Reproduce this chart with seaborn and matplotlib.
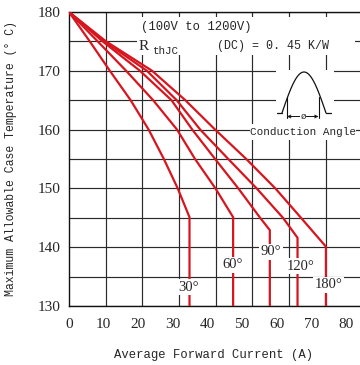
import numpy as np
import pandas as pd
import matplotlib
matplotlib.use("Agg")
import matplotlib.pyplot as plt
from matplotlib.patches import Rectangle
import seaborn as sns

# ---------------- data ----------------
angles = ["30°", "60°", "90°", "120°", "180°"]

x_30 = [0, 6.0, 11.8, 17.8, 23.0, 27.4, 31.4, 34.8, 34.8]
y_30 = [180, 175, 170, 165, 160, 155, 150, 145.1, 130]

x_60 = [0, 8.3, 16.5, 24.3, 31.2, 36.4, 42.3, 47.4, 47.4]
y_60 = [180, 175, 170, 165, 160, 155, 150, 145.1, 130]

x_90 = [0, 9.7, 20.5, 29.6, 35.6, 42.2, 48.9, 55.2, 58.0, 58.0]
y_90 = [180, 175, 170, 165, 160, 155, 150, 145, 142.9, 130]

x_120 = [0, 10.2, 22.5, 31.1, 37.9, 46.0, 54.2, 61.8, 66.0, 66.0]
y_120 = [180, 175, 170, 165, 160, 155, 150, 145, 141.6, 130]

x_180 = [0, 10.7, 24.0, 33.6, 42.2, 51.2, 59.6, 67.0, 74.2, 74.2]
y_180 = [180, 175, 170, 165, 160, 155, 150, 145, 140.1, 130]

x_ticks = [0, 10, 20, 30, 40, 50, 60, 70, 80]
y_ticks = [130, 140, 150, 160, 170, 180]

# label positions for the angle tags (data units)
lab_x = [34.4, 47.3, 58.4, 66.9, 74.9]
lab_y = [133.2, 137.0, 139.2, 136.8, 133.6]

series_x = [x_30, x_60, x_90, x_120, x_180]
series_y = [y_30, y_60, y_90, y_120, y_180]

df = pd.concat(
    [pd.DataFrame({"current": xs, "temp": ys, "angle": a})
     for a, xs, ys in zip(angles, series_x, series_y)],
    ignore_index=True,
)

# ---------------- style ----------------
sns.set_style("white")
plt.rcParams["font.family"] = ["Liberation Mono", "DejaVu Sans"]

RED = "#d7151f"
GRID = "#2a2a2a"

fig = plt.figure(figsize=(3.6, 3.65), dpi=100)
W, H = 360.0, 365.0
L, R_, T, B = 69.0, 360.0, 12.0, 306.0
ax = fig.add_axes([L / W, 1 - B / H, (R_ - L) / W, (B - T) / H])

sns.lineplot(data=df, x="current", y="temp", hue="angle",
             palette=[RED] * len(angles), estimator=None, sort=False,
             legend=False, lw=1.6, ax=ax, zorder=3)

xmax = (R_ - L) / 3.4625
ax.set_xlim(0, xmax)
ax.set_ylim(130, 180)

# ticks / grid
ax.set_xticks(x_ticks)
ax.set_xticklabels([str(v) for v in x_ticks], family="Liberation Serif", fontsize=11)
grid_step = 36.67 / 3.4625
ax.set_xticks([k * grid_step for k in range(1, 8)], minor=True)
ax.set_yticks(y_ticks)
ax.set_yticklabels([str(v) for v in y_ticks], family="Liberation Serif", fontsize=11)
ax.set_yticks([135, 145, 155, 165, 175], minor=True)
ax.tick_params(axis="both", which="both", length=0)
ax.tick_params(axis="y", pad=6)
ax.tick_params(axis="x", pad=9)
ax.grid(False)
ax.grid(True, axis="x", which="minor", color=GRID, lw=0.85)
ax.grid(True, axis="y", which="both", color=GRID, lw=0.85)
ax.set_axisbelow(True)

for s in ["left", "bottom", "top"]:
    ax.spines[s].set_visible(True)
    ax.spines[s].set_color("#111111")
    ax.spines[s].set_linewidth(1.0)
ax.spines["right"].set_visible(False)

ax.set_xlabel("Average Forward Current (A)", fontsize=8.8)
ax.set_ylabel("Maximum Allowable Case Temperature (° C)", fontsize=8.3)
ax.xaxis.set_label_coords(0.498, -0.145)
ax.yaxis.set_label_coords(-0.178, 0.5)

# white boxes behind annotation texts (cover the grid like the reference)
ax.add_patch(Rectangle(((137 - L) / (R_ - L), (B - 55) / (B - T)),
                       (355 - 137) / (R_ - L), (55 - 17) / (B - T),
                       transform=ax.transAxes, facecolor="white",
                       edgecolor="none", zorder=2.5))
ax.add_patch(Rectangle(((250 - L) / (R_ - L), (B - 140) / (B - T)),
                       (356 - 250) / (R_ - L), (140 - 124) / (B - T),
                       transform=ax.transAxes, facecolor="white",
                       edgecolor="none", zorder=2.5))

def px2data(px, py):
    return (px - L) / 3.4625, 180 - (py - T) / 5.88

tx, ty = px2data(141, 27.5)
ax.text(tx, ty, "(100V to 1200V)", fontsize=8.8, va="center", ha="left", zorder=4)
tx, ty = px2data(138.5, 46.5)
ax.text(tx, ty, "R", fontsize=11, family="Liberation Serif", va="center", ha="left", zorder=4)
tx, ty = px2data(152, 51)
ax.text(tx, ty, "thJC", fontsize=7.8, va="center", ha="left", zorder=4)
tx, ty = px2data(217, 46)
ax.text(tx, ty, "(DC) = 0. 45 K/W", fontsize=8.4, va="center", ha="left", zorder=4)
tx, ty = px2data(250, 131.7)
ax.text(tx, ty, "Conduction Angle", fontsize=7.9, va="center", ha="left", zorder=4)

for a, lx, ly in zip(angles, lab_x, lab_y):
    ax.text(lx, ly, a, fontsize=10.5, family="Liberation Serif", ha="center",
            va="center", zorder=5,
            bbox=dict(boxstyle="square,pad=0.12", fc="white", ec="none"))

# conduction-angle icon (inset in pixel coordinates)
ix0, ix1, iy0, iy1 = 276.0, 334.0, 70.0, 124.0
iax = fig.add_axes([ix0 / W, 1 - iy1 / H, (ix1 - ix0) / W, (iy1 - iy0) / H])
iax.set_xlim(ix0, ix1)
iax.set_ylim(iy1, iy0)
iax.set_xticks([])
iax.set_yticks([])
for s in iax.spines.values():
    s.set_visible(False)
iax.set_facecolor("white")
xs = np.linspace(282, 326, 80)
ys = 113 - 41 * np.sin(np.pi * (xs - 282) / 44)
iax.plot(xs, ys, color="#111111", lw=0.9)
iax.plot([277, 282], [113, 113], color="#111111", lw=0.9)
iax.plot([326, 331], [113, 113], color="#111111", lw=0.9)
iax.plot([287, 287], [97, 118], color="#111111", lw=0.8)
iax.plot([318.5, 318.5], [97, 118], color="#111111", lw=0.8)
iax.annotate("", xy=(287, 116.5), xytext=(318.5, 116.5),
             arrowprops=dict(arrowstyle="<->", lw=0.7, color="#111111",
                             shrinkA=0, shrinkB=0, mutation_scale=5))
iax.text(302.7, 116.5, "ø", fontsize=6.5, ha="center", va="center",
         bbox=dict(boxstyle="square,pad=0.05", fc="white", ec="none"))

fig.savefig("out.png", dpi=100)
